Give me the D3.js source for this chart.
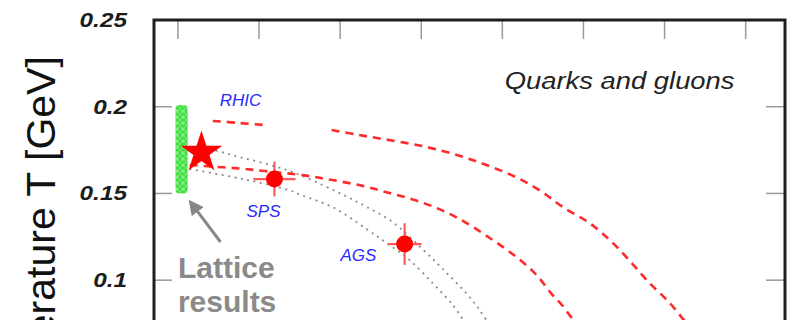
<!DOCTYPE html>
<html>
<head>
<meta charset="utf-8">
<script src="https://cdn.jsdelivr.net/npm/d3@7"></script>
<style>
  html, body { margin: 0; padding: 0; background: #fff; }
  svg { display: block; overflow: hidden; }
</style>
</head>
<body>
<svg id="chart" width="788" height="320"></svg>
<script>
// Phase diagram of strongly interacting matter: temperature vs baryon chemical potential

// axis ticks
const muTicks = [0, 0.2, 0.4, 0.6, 0.8, 1.0, 1.2, 1.4];
const tTicks = [0.1, 0.15, 0.2, 0.25];
const tTickLabels = ["0.1", "0.15", "0.2", "0.25"];

// freeze-out points: mu (GeV), T (GeV) and their errors
const freezeNames = ["SPS", "AGS"];
const freezeMu = [0.238, 0.559];
const freezeT = [0.1583, 0.1208];
const freezeErrMu = [0.052, 0.042];
const freezeErrT = [0.010, 0.012];

// RHIC point
const rhicMu = 0.058;
const rhicT = 0.1736;

// lattice band at vanishing chemical potential
const latticeMu = 0.009;
const latticeHalfWidth = 0.015;
const latticeTLow = 0.150;
const latticeTHigh = 0.201;

// upper dashed transition line (broken near the RHIC label)
const upperDashedMu = [0.086, 0.152, 0.216, null, 0.379, 0.441, 0.505, 0.577, 0.645, 0.712, 0.774, 0.838, 0.900, 0.949, 1.015, 1.070, 1.119, 1.163, 1.213, 1.257];
const upperDashedT  = [0.1918, 0.1906, 0.1894, null, 0.1866, 0.1839, 0.1814, 0.1785, 0.1750, 0.1704, 0.1652, 0.1589, 0.1505, 0.1422, 0.1329, 0.1220, 0.1099, 0.0983, 0.0868, 0.0741];

// lower dashed transition line
const lowerDashedMu = [0.029, 0.0905, 0.152, 0.214, 0.312, 0.381, 0.453, 0.517, 0.584, 0.650, 0.712, 0.769, 0.825, 0.880, 0.924, 0.949, 0.978];
const lowerDashedT  = [0.1664, 0.1654, 0.1644, 0.1629, 0.1604, 0.1577, 0.1545, 0.1505, 0.1462, 0.1404, 0.1329, 0.1243, 0.1151, 0.1041, 0.0914, 0.0851, 0.0758];

// chemical freeze-out curves
const upperDottedMu = [0.029, 0.0954, 0.152, 0.219, 0.283, 0.357, 0.416, 0.465, 0.529, 0.603, 0.663, 0.719, 0.744, 0.764];
const upperDottedT  = [0.1762, 0.1745, 0.1710, 0.1670, 0.1623, 0.1548, 0.1482, 0.1423, 0.1335, 0.1179, 0.1041, 0.0903, 0.0828, 0.0758];
const lowerDottedMu = [0.029, 0.135, 0.201, 0.275, 0.307, 0.381, 0.465, 0.515, 0.571, 0.628, 0.678, 0.707];
const lowerDottedT  = [0.1641, 0.1595, 0.1562, 0.1518, 0.1488, 0.1422, 0.1295, 0.1214, 0.1116, 0.0983, 0.0856, 0.0758];

const svg = d3.select("#chart");
const plotLeft = 154, plotRight = 785, plotTop = 20, plotBottom = 453.6;

const x = d3.scaleLinear().domain([-0.059, 1.497]).range([plotLeft, plotRight]);
const y = d3.scaleLinear().domain([0, 0.25]).range([plotBottom, plotTop]);

const zip = (a, b) => a.map((v, i) => [v, b[i]]);

// hatch pattern for the lattice band
const defs = svg.append("defs");
const pat = defs.append("pattern").attr("id", "latt").attr("patternUnits", "userSpaceOnUse")
  .attr("width", 6).attr("height", 6);
pat.append("rect").attr("width", 6).attr("height", 6).attr("fill", "#3ee03e");
pat.append("circle").attr("cx", 3).attr("cy", 3).attr("r", 1.6).attr("fill", "#a4f2a4");
pat.append("path").attr("d", "M0,0L6,6M6,0L0,6").attr("stroke", "#86ea86").attr("stroke-width", 0.8);

// ticks
const tickColor = "#9a9a9a";
svg.append("g").selectAll("line").data(muTicks).join("line")
  .attr("x1", d => x(d)).attr("x2", d => x(d))
  .attr("y1", plotTop).attr("y2", plotTop + 19)
  .attr("stroke", tickColor).attr("stroke-width", 1.5);
svg.append("g").selectAll("line").data(tTicks).join("line")
  .attr("x1", plotLeft).attr("x2", plotLeft + 18)
  .attr("y1", d => y(d)).attr("y2", d => y(d))
  .attr("stroke", tickColor).attr("stroke-width", 1.5);
svg.append("g").selectAll("line").data(tTicks).join("line")
  .attr("x1", plotRight).attr("x2", plotRight - 19)
  .attr("y1", d => y(d)).attr("y2", d => y(d))
  .attr("stroke", tickColor).attr("stroke-width", 1.5);

// tick labels
svg.append("g").selectAll("text").data(tTicks).join("text")
  .attr("transform", d => `translate(127,${y(d) + 7}) scale(1.25,1)`)
  .attr("text-anchor", "end")
  .attr("font-family", "Liberation Sans, Arial, sans-serif")
  .attr("font-size", 19.5).attr("font-weight", "bold").attr("font-style", "italic")
  .attr("fill", "#1c1c1c")
  .text((d, i) => tTickLabels[i]);

// axis title
svg.append("text")
  .attr("transform", `translate(55,${(plotTop + plotBottom) / 2 + 10}) rotate(-90)`)
  .attr("text-anchor", "middle")
  .attr("font-family", "Liberation Sans, Arial, sans-serif")
  .attr("font-size", 41).attr("fill", "#111")
  .text("Temperature T [GeV]");

// lattice band
svg.append("rect")
  .attr("x", x(latticeMu - latticeHalfWidth)).attr("y", y(latticeTHigh))
  .attr("width", x(latticeMu + latticeHalfWidth) - x(latticeMu - latticeHalfWidth))
  .attr("height", y(latticeTLow) - y(latticeTHigh))
  .attr("rx", 4)
  .attr("fill", "url(#latt)");

const line = d3.line().defined(d => d[0] !== null).x(d => x(d[0])).y(d => y(d[1]))
  .curve(d3.curveCatmullRom.alpha(0.5));

// freeze-out dotted curves
[[upperDottedMu, upperDottedT], [lowerDottedMu, lowerDottedT]].forEach(([m, t]) => {
  svg.append("path").datum(zip(m, t)).attr("d", line)
    .attr("fill", "none").attr("stroke", "#8c8c8c").attr("stroke-width", 1.8)
    .attr("stroke-dasharray", "2,4.5");
});

// dashed transition curves
[[upperDashedMu, upperDashedT], [lowerDashedMu, lowerDashedT]].forEach(([m, t]) => {
  svg.append("path").datum(zip(m, t)).attr("d", line)
    .attr("fill", "none").attr("stroke", "#ff2a2a").attr("stroke-width", 2.6)
    .attr("stroke-dasharray", "8,6");
});

// freeze-out points with error bars
const pts = svg.append("g");
freezeMu.forEach((m, i) => {
  const g = pts.append("g");
  g.append("line").attr("x1", x(m - freezeErrMu[i])).attr("x2", x(m + freezeErrMu[i]))
    .attr("y1", y(freezeT[i])).attr("y2", y(freezeT[i]))
    .attr("stroke", "#ff5a5a").attr("stroke-width", 2.2);
  g.append("line").attr("x1", x(m)).attr("x2", x(m))
    .attr("y1", y(freezeT[i] - freezeErrT[i])).attr("y2", y(freezeT[i] + freezeErrT[i]))
    .attr("stroke", "#ff5a5a").attr("stroke-width", 2.2);
  g.append("circle").attr("cx", x(m)).attr("cy", y(freezeT[i])).attr("r", 8.5).attr("fill", "#ff0000");
});

// RHIC star
svg.append("path")
  .attr("transform", `translate(${x(rhicMu)},${y(rhicT)})`)
  .attr("d", d3.symbol(d3.symbolStar, 540)())
  .attr("fill", "#ff0000");

// experiment labels
const labelFont = "Liberation Sans, Arial, sans-serif";
const expLabels = [
  { text: "RHIC", mu: 0.103, t: 0.2004 },
  { text: freezeNames[0], mu: 0.169, t: 0.1364 },
  { text: freezeNames[1], mu: 0.401, t: 0.111 }
];
svg.append("g").selectAll("text").data(expLabels).join("text")
  .attr("x", d => x(d.mu)).attr("y", d => y(d.t))
  .attr("font-family", labelFont).attr("font-size", 17).attr("font-style", "italic")
  .attr("fill", "#2a2aff")
  .text(d => d.text);

// phase label
svg.append("text")
  .attr("transform", `translate(${x(0.806)},${y(0.210)}) scale(1.165,1)`)
  .attr("font-family", labelFont).attr("font-size", 23.5).attr("font-style", "italic")
  .attr("fill", "#222")
  .text("Quarks and gluons");

// lattice annotation arrow
const arrowTail = [0.105, 0.122], arrowTip = [0.031, 0.145];
defs.append("marker").attr("id", "ahead").attr("viewBox", "0 0 10 10")
  .attr("refX", 8).attr("refY", 5).attr("markerWidth", 5).attr("markerHeight", 5)
  .attr("orient", "auto")
  .append("path").attr("d", "M0,0L10,5L0,10Z").attr("fill", "#878787");
svg.append("line")
  .attr("x1", x(arrowTail[0])).attr("y1", y(arrowTail[1]))
  .attr("x2", x(arrowTip[0])).attr("y2", y(arrowTip[1]))
  .attr("stroke", "#878787").attr("stroke-width", 3)
  .attr("marker-end", "url(#ahead)");

svg.append("g").selectAll("text").data(["Lattice", "results"]).join("text")
  .attr("x", x(0)).attr("y", (d, i) => y(0.1012) + i * 34)
  .attr("font-family", labelFont).attr("font-size", 30).attr("font-weight", "bold")
  .attr("fill", "#8a8a8a")
  .text(d => d);

// frame
svg.append("path")
  .attr("d", `M${plotLeft},${plotBottom + 40}V${plotTop}H${plotRight}V${plotBottom + 40}`)
  .attr("fill", "none").attr("stroke", "#1e1e1e").attr("stroke-width", 3);
</script>
</body>
</html>
